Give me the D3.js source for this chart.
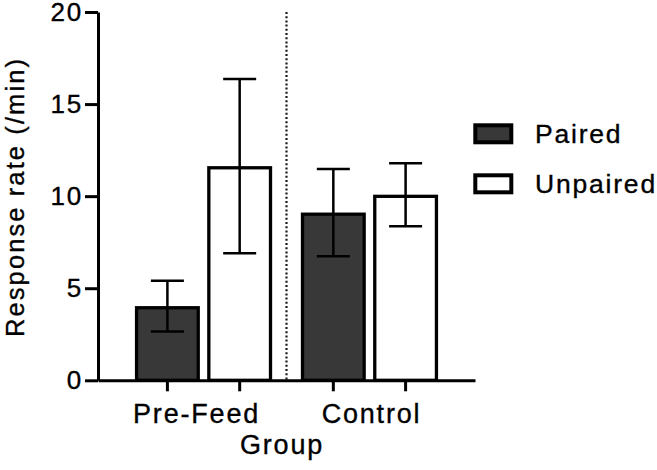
<!DOCTYPE html>
<html>
<head>
<meta charset="utf-8">
<script src="https://cdn.jsdelivr.net/npm/d3@7/dist/d3.min.js"></script>
<style>
  html, body { margin: 0; padding: 0; background: #fff; }
  svg text { font-family: "Liberation Sans", Arial, sans-serif; fill: #000; stroke: #000; stroke-width: 0.35px; }
</style>
</head>
<body>
<svg id="chart" width="657" height="470"></svg>
<script>
const groups = ["Pre-Feed", "Control"];
const series = ["Paired", "Unpaired"];
const pairedMean = [4.03, 9.11];
const pairedSem = [1.38, 2.37];
const unpairedMean = [11.63, 10.08];
const unpairedSem = [4.73, 1.71];
const yTicks = [0, 5, 10, 15, 20];
const xTitle = "Group";
const yTitle = "Response rate (/min)";

const colors = { Paired: "#383838", Unpaired: "#ffffff" };
const data = [];
groups.forEach((g, i) => {
  data.push({ group: g, series: "Paired", mean: pairedMean[i], sem: pairedSem[i] });
  data.push({ group: g, series: "Unpaired", mean: unpairedMean[i], sem: unpairedSem[i] });
});

const svg = d3.select("#chart");
const axisX0 = 98, axisX1 = 475, yBottom = 380.3, yTop = 12;
const fs = 26, ls = 1.8;

const y = d3.scaleLinear().domain([0, 20]).range([yBottom, yTop]);
const x0 = d3.scaleBand().domain(groups).range([axisX0, axisX1]).paddingInner(0).paddingOuter(0.136);
const x1 = d3.scaleBand().domain(series).range([0, x0.bandwidth()]).paddingInner(0.101).paddingOuter(0.1985);

const barSW = 3.3;
svg.append("g").selectAll("rect").data(data).join("rect")
  .attr("x", d => x0(d.group) + x1(d.series) + barSW / 2)
  .attr("width", x1.bandwidth() - barSW)
  .attr("y", d => y(d.mean) + barSW / 2)
  .attr("height", d => y(0) - y(d.mean) - barSW / 2)
  .attr("fill", d => colors[d.series])
  .attr("stroke", "#000")
  .attr("stroke-width", barSW);

const capW = 33;
const eg = svg.append("g").attr("stroke", "#000").attr("stroke-width", 2.5).attr("fill", "none");
data.forEach(d => {
  const cx = x0(d.group) + x1(d.series) + x1.bandwidth() / 2;
  const hi = y(d.mean + d.sem), lo = y(d.mean - d.sem);
  eg.append("line").attr("x1", cx).attr("x2", cx).attr("y1", hi).attr("y2", lo);
  eg.append("line").attr("x1", cx - capW / 2).attr("x2", cx + capW / 2).attr("y1", hi).attr("y2", hi);
  eg.append("line").attr("x1", cx - capW / 2).attr("x2", cx + capW / 2).attr("y1", lo).attr("y2", lo);
});

const sepX = x0(groups[1]);
svg.append("line")
  .attr("x1", sepX).attr("x2", sepX)
  .attr("y1", y(20)).attr("y2", y(0))
  .attr("stroke", "#1a1a1a").attr("stroke-width", 2.2).attr("stroke-dasharray", "2,2.2");

const yAxis = svg.append("g").attr("transform", `translate(${axisX0},0)`)
  .call(d3.axisLeft(y).tickValues(yTicks).tickSize(13).tickPadding(2).tickSizeOuter(0));
yAxis.select(".domain").attr("stroke", "#000").attr("stroke-width", 3);
yAxis.selectAll(".tick line").attr("stroke", "#000").attr("stroke-width", 3);
yAxis.selectAll(".tick text").attr("font-size", fs).style("letter-spacing", ls + "px")
  .attr("font-family", null).attr("fill", "#000");

const xAxis = svg.append("g").attr("transform", `translate(0,${yBottom})`)
  .call(d3.axisBottom(x0).tickSize(0).tickSizeOuter(0));
xAxis.select(".domain").attr("stroke", "#000").attr("stroke-width", 3);
xAxis.selectAll(".tick line").remove();
xAxis.selectAll(".tick text")
  .attr("font-size", 27).style("letter-spacing", ls + "px")
  .attr("font-family", null).attr("fill", "#000")
  .attr("y", 43).attr("dy", 0)
  .attr("dx", (d, i) => i === 0 ? -7 : 2);

const tg = svg.append("g").attr("stroke", "#000").attr("stroke-width", 3);
data.forEach(d => {
  const cx = x0(d.group) + x1(d.series) + x1.bandwidth() / 2;
  tg.append("line").attr("x1", cx).attr("x2", cx).attr("y1", yBottom).attr("y2", yBottom + 11);
});

svg.append("text").attr("x", 282).attr("y", 454).attr("text-anchor", "middle")
  .attr("font-size", 27).style("letter-spacing", ls + "px").text(xTitle);
svg.append("text").attr("transform", "translate(23.5,197) rotate(-90)").attr("text-anchor", "middle")
  .attr("font-size", 25.5).style("letter-spacing", "2.1px").text(yTitle);

const lg = svg.append("g");
series.forEach((s, i) => {
  const yy = 125.3 + i * 50;
  lg.append("rect").attr("x", 475.3).attr("y", yy).attr("width", 36).attr("height", 17)
    .attr("fill", colors[s]).attr("stroke", "#000").attr("stroke-width", 4);
  lg.append("text").attr("x", 535).attr("y", 143.3 + i * 50)
    .attr("font-size", 26.5).style("letter-spacing", ls + "px").text(s);
});
</script>
</body>
</html>
